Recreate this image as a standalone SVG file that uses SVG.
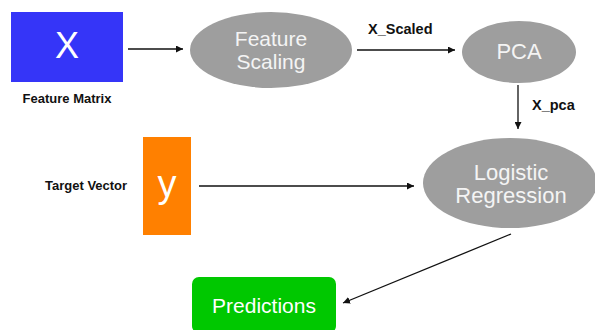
<svg xmlns="http://www.w3.org/2000/svg" width="595" height="330" viewBox="0 0 595 330">
<style>
.big{font-family:"Liberation Sans",Arial,sans-serif;fill:#F4F4F4;text-anchor:middle}
.lbl{font-family:"Liberation Sans",Arial,sans-serif;font-weight:bold;fill:#111}
.ell{fill:#9E9E9E}
.edge{stroke:#111;stroke-width:1.3;fill:none;marker-end:url(#ah)}
</style>
<defs>
<marker id="ah" viewBox="0 0 10 10" refX="10" refY="5" markerWidth="7" markerHeight="7" markerUnits="userSpaceOnUse" orient="auto">
<path d="M0,0 L10,5 L0,10 Z" fill="#111"/>
</marker>
</defs>
<rect width="595" height="330" fill="#fff"/>
<g id="connectors">
<line class="edge" x1="128" y1="49" x2="183" y2="49"/>
<line class="edge" x1="357" y1="50" x2="455" y2="50"/>
<line class="edge" x1="518" y1="85" x2="518" y2="129"/>
<line class="edge" x1="199" y1="186" x2="414" y2="186"/>
<line class="edge" x1="511" y1="234" x2="343" y2="303"/>
<text class="lbl" x="368" y="34" font-size="14.5">X_Scaled</text>
<text class="lbl" x="532" y="110" font-size="14.5">X_pca</text>
</g>
<g id="featureMatrix">
<rect x="11" y="12" width="112" height="70" fill="#3535F8"/>
<text class="big" x="67" y="58" font-size="36" style="fill:#fff">X</text>
<text class="lbl" x="67" y="103" font-size="13" text-anchor="middle">Feature Matrix</text>
</g>
<g id="featureScaling">
<ellipse class="ell" cx="271" cy="50" rx="81" ry="38"/>
<text class="big" x="271" y="46" font-size="21">Feature</text>
<text class="big" x="271" y="69" font-size="21">Scaling</text>
</g>
<g id="pca">
<ellipse class="ell" cx="519" cy="52" rx="57" ry="31"/>
<text class="big" x="519" y="59" font-size="22">PCA</text>
</g>
<g id="targetVector">
<rect x="143" y="137" width="48" height="98" fill="#FF8000"/>
<text class="big" x="167" y="197" font-size="38" style="fill:#fff">y</text>
<text class="lbl" x="45" y="190" font-size="13">Target Vector</text>
</g>
<g id="logisticRegression">
<ellipse class="ell" cx="510" cy="183" rx="87" ry="45"/>
<text class="big" x="511" y="180" font-size="22">Logistic</text>
<text class="big" x="511" y="203" font-size="22">Regression</text>
</g>
<g id="predictions">
<rect x="192" y="277" width="144" height="56" rx="7" fill="#00C800"/>
<text class="big" x="264" y="313" font-size="21" style="fill:#fff">Predictions</text>
</g>
</svg>
